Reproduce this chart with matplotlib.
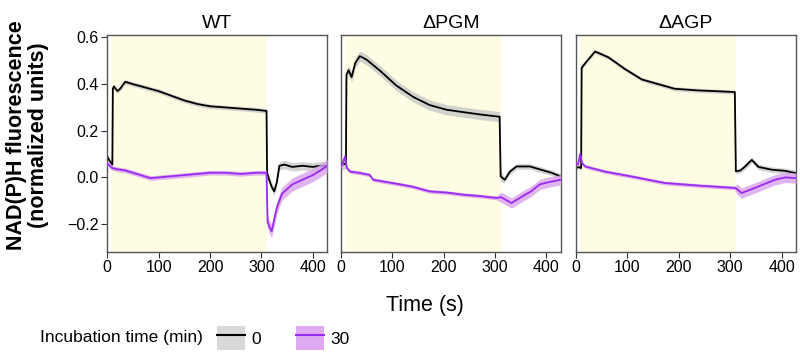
import numpy as np
import matplotlib
matplotlib.use("Agg")
from matplotlib import pyplot as plt
from matplotlib.patches import Patch
from matplotlib.lines import Line2D
from matplotlib.legend_handler import HandlerTuple

plt.rcParams['font.family'] = ['Liberation Sans', 'DejaVu Sans']

# ---- data ----
panels = ['WT', '\u0394PGM', '\u0394AGP']
light_on, light_off = 8, 311

# WT
wt_t0 = [0, 5, 10, 11, 13, 20, 25, 35, 50, 75, 100, 125, 150, 175, 200, 230, 260, 290, 310,
         311, 315, 320, 325, 330, 335, 345, 360, 380, 400, 415, 428]
wt_v0 = [0.09, 0.07, 0.055, 0.38, 0.39, 0.37, 0.38, 0.41, 0.40, 0.385, 0.37, 0.35, 0.33, 0.315,
         0.305, 0.30, 0.295, 0.29, 0.285, 0.02, -0.01, -0.04, -0.06, -0.02, 0.05, 0.055, 0.045,
         0.05, 0.045, 0.05, 0.05]
wt_t30 = [0, 5, 10, 20, 35, 50, 65, 84, 100, 125, 150, 175, 200, 230, 260, 290, 310,
          312, 315, 320, 330, 340, 360, 380, 400, 415, 428]
wt_v30 = [0.06, 0.05, 0.04, 0.035, 0.03, 0.02, 0.01, -0.003, 0.0, 0.005, 0.01, 0.015, 0.02, 0.02,
          0.015, 0.02, 0.02, -0.19, -0.21, -0.23, -0.13, -0.07, -0.03, -0.01, 0.01, 0.03, 0.05]

# dPGM
pgm_t0 = [0, 5, 10, 11, 15, 21, 28, 37, 50, 76, 108, 141, 173, 206, 238, 271, 309,
          311, 319, 329, 342, 368, 394, 410, 428]
pgm_v0 = [0.06, 0.055, 0.06, 0.44, 0.46, 0.43, 0.49, 0.52, 0.505, 0.458, 0.394, 0.345, 0.31,
          0.29, 0.28, 0.27, 0.26, 0.004, -0.01, 0.025, 0.047, 0.047, 0.03, 0.02, 0.004]
pgm_t30 = [0, 4, 8, 12, 18, 35, 56, 63, 108, 140, 173, 206, 238, 270, 303, 312, 332, 354,
           370, 387, 405, 428]
pgm_v30 = [0.047, 0.06, 0.09, 0.04, 0.025, 0.02, 0.011, -0.01, -0.027, -0.04, -0.06, -0.065,
           -0.074, -0.08, -0.088, -0.085, -0.11, -0.08, -0.06, -0.03, -0.02, -0.01]

# dAGP
agp_t0 = [0, 5, 10, 11, 18, 37, 63, 95, 128, 160, 192, 238, 270, 309, 311, 320, 329, 342,
          355, 381, 407, 428]
agp_v0 = [0.04, 0.045, 0.04, 0.47, 0.49, 0.54, 0.515, 0.465, 0.42, 0.40, 0.38, 0.373, 0.37,
          0.366, 0.026, 0.03, 0.047, 0.075, 0.045, 0.033, 0.028, 0.018]
agp_t30 = [0, 4, 8, 12, 18, 56, 108, 173, 238, 309, 313, 322, 348, 387, 407, 428]
agp_v30 = [0.06, 0.055, 0.1, 0.06, 0.047, 0.025, 0.004, -0.024, -0.035, -0.045, -0.05,
           -0.067, -0.045, -0.01, 0.0, -0.003]

# error band half-widths (before / after light off)
sem0 = [(0.010, 0.018), (0.022, 0.012), (0.009, 0.012)]
sem30 = [(0.010, 0.028), (0.008, 0.022), (0.008, 0.022)]

series = [(wt_t0, wt_v0, wt_t30, wt_v30),
          (pgm_t0, pgm_v0, pgm_t30, pgm_v30),
          (agp_t0, agp_v0, agp_t30, agp_v30)]

# ---- figure ----
fig = plt.figure(figsize=(8, 3.55), dpi=100)
lefts = [0.134, 0.426, 0.72]
black, grey_band = '#000000', '#c8c8c8'
purple, pink_band = '#9a2bf0', '#d9a0ee'

for i, (name, (t0, v0, t30, v30)) in enumerate(zip(panels, series)):
    ax = fig.add_axes([lefts[i], 0.290, 0.275, 0.611])
    ax.axvspan(light_on, light_off, color='#fefde3', lw=0, zorder=0)

    t0, v0, t30, v30 = map(np.array, (t0, v0, t30, v30))
    e0 = np.where(t0 > light_off, sem0[i][1], sem0[i][0])
    e30 = np.where(t30 > light_off, sem30[i][1], sem30[i][0])

    ax.fill_between(t0, v0 - e0, v0 + e0, color=grey_band, alpha=0.8, lw=0, zorder=1)
    ax.plot(t0, v0, color=black, lw=1.3, zorder=2)
    ax.fill_between(t30, v30 - e30, v30 + e30, color=pink_band, alpha=0.8, lw=0, zorder=3)
    ax.plot(t30, v30, color=purple, lw=1.3, zorder=4)

    ax.set_xlim(0, 428)
    ax.set_ylim(-0.32, 0.61)
    ax.set_xticks([0, 100, 200, 300, 400])
    ax.set_yticks([-0.2, 0.0, 0.2, 0.4, 0.6])
    ax.tick_params(labelsize=11.5, length=4, color='#333333', pad=2)
    if i == 0:
        ax.set_yticklabels(['\u22120.2', '0.0', '0.2', '0.4', '0.6'])
    else:
        ax.tick_params(axis='y', left=False, labelleft=False)
    for s in ax.spines.values():
        s.set_color('#555555')
        s.set_linewidth(1.0)
    ax.set_title(name, fontsize=14, pad=5)

fig.text(0.034, 0.62, 'NAD(P)H fluorescence\n(normalized units)', rotation=90,
         ha='center', va='center', fontsize=15.5, fontweight='bold', linespacing=1.05)
fig.text(0.531, 0.14, 'Time (s)', ha='center', va='center', fontsize=15.5)

fig.text(0.05, 0.048, 'Incubation time (min)', ha='left', va='center', fontsize=12.5)
handles = [(Patch(facecolor='#d9d9d9', edgecolor='none'), Line2D([], [], color=black, lw=1.5)),
           (Patch(facecolor='#dfaaf0', edgecolor='none'), Line2D([], [], color=purple, lw=1.5))]
fig.legend(handles, ['0', '30'], ncol=2, frameon=False, fontsize=12.5,
           handler_map={tuple: HandlerTuple(ndivide=1)},
           handlelength=1.6, handleheight=1.8, columnspacing=2.0, handletextpad=0.4,
           loc='center left', bbox_to_anchor=(0.256, 0.048), borderpad=0.2)

fig.savefig('out.png', dpi=100)
